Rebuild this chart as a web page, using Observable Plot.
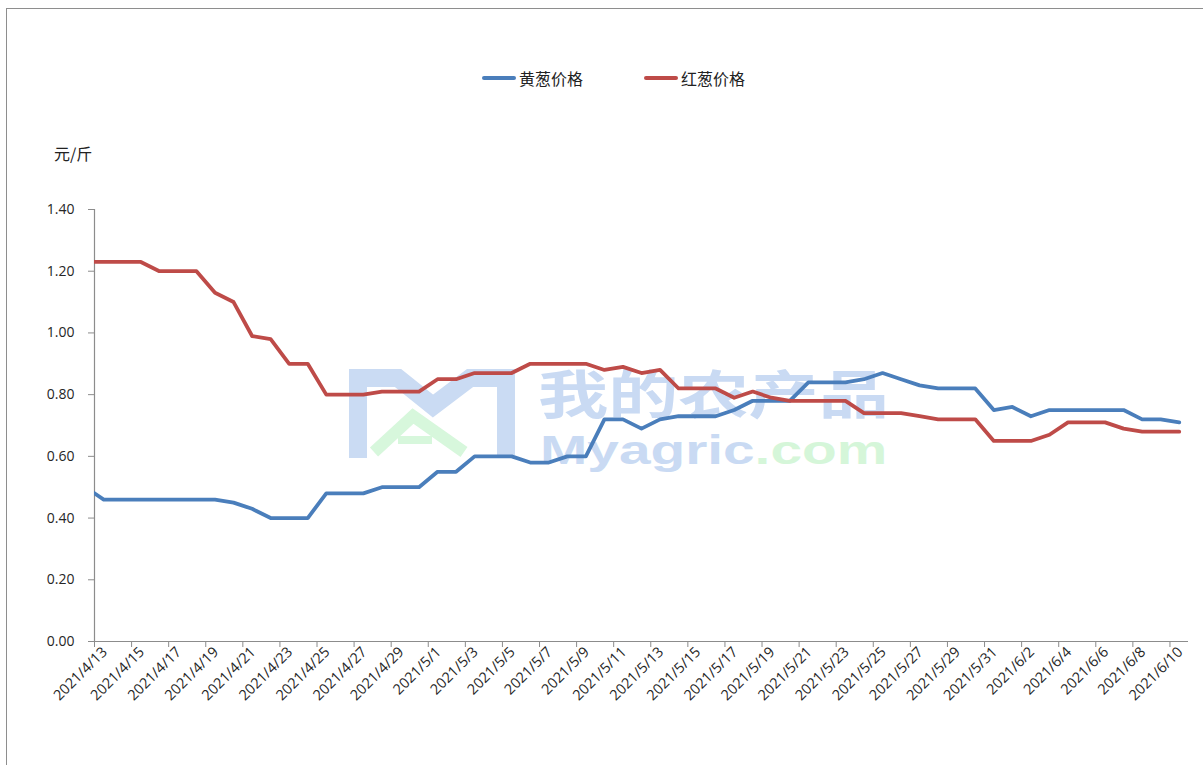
<!DOCTYPE html>
<html>
<head>
<meta charset="utf-8">
<script src="https://cdn.jsdelivr.net/npm/d3@7"></script>
<script src="https://cdn.jsdelivr.net/npm/@observablehq/plot@0.6"></script>
<style>
  body { margin: 0; background: #fff; }
  #wrap { position: relative; width: 1203px; height: 765px; overflow: hidden; background: #fff; }
  #border { position: absolute; left: 6px; top: 8px; width: 1300px; height: 900px; border: 1px solid #8e8e8e; }
  #wm { position: absolute; left: 0; top: 0; z-index: 0; }
  #chart { position: absolute; left: 0; top: 0; z-index: 1; }
  .unit { position: absolute; left: 54px; top: 141px; font: 16px "Noto Sans CJK SC", sans-serif; color: #222; z-index: 2; }
  .leg { position: absolute; top: 66px; height: 24px; display: flex; align-items: center; font: 16px "Noto Sans CJK SC", sans-serif; color: #222; z-index: 2; }
  .leg i { display: inline-block; width: 34px; height: 4px; border-radius: 2px; margin-right: 3px; }
</style>
</head>
<body>
<div id="wrap">
  <div id="border"></div>
  <svg id="wm" width="1203" height="765">
    <polyline points="358,458 358,378 398,378 433,406 470,378 506,378 506,455" fill="none" stroke="#cadbf3" stroke-width="18" stroke-linejoin="miter"/>
    <polyline points="374,452 413,416 464,452" fill="none" stroke="#d7f7dc" stroke-width="12"/>
    <line x1="398" y1="440" x2="432" y2="440" stroke="#d7f7dc" stroke-width="8"/>
    <text transform="translate(538,414) scale(1.35,1)" font-family="Noto Sans CJK SC" font-weight="bold" font-size="52" fill="#c9daf3">我的农产品</text>
    <text transform="translate(540,464) scale(1.42,1)" font-family="Liberation Sans" font-weight="bold" font-size="40" fill="#c9daf3">Myagric<tspan fill="#d5f6d9">.com</tspan></text>
  </svg>
  <div id="chart"></div>
  <div class="unit">元/斤</div>
  <div class="leg" style="left:482px"><i style="background:#4a7ebb"></i>黄葱价格</div>
  <div class="leg" style="left:644px"><i style="background:#be4b48"></i>红葱价格</div>
</div>
<script>
// ---- data ----
const dates = [
  "2021-04-12","2021-04-13","2021-04-14","2021-04-15","2021-04-16","2021-04-17","2021-04-18","2021-04-19","2021-04-20","2021-04-21",
  "2021-04-22","2021-04-23","2021-04-24","2021-04-25","2021-04-26","2021-04-27","2021-04-28","2021-04-29","2021-04-30",
  "2021-05-01","2021-05-02","2021-05-03","2021-05-04","2021-05-05","2021-05-06","2021-05-07","2021-05-08","2021-05-09","2021-05-10",
  "2021-05-11","2021-05-12","2021-05-13","2021-05-14","2021-05-15","2021-05-16","2021-05-17","2021-05-18","2021-05-19","2021-05-20",
  "2021-05-21","2021-05-22","2021-05-23","2021-05-24","2021-05-25","2021-05-26","2021-05-27","2021-05-28","2021-05-29","2021-05-30","2021-05-31",
  "2021-06-01","2021-06-02","2021-06-03","2021-06-04","2021-06-05","2021-06-06","2021-06-07","2021-06-08","2021-06-09","2021-06-10"
];
const yellowPrice = [
  0.50, 0.46,0.46,0.46,0.46,0.46,0.46,0.46, 0.45,0.43,0.40,0.40,0.40, 0.48,0.48,0.48,0.50,0.50,0.50,
  0.55,0.55,0.60,0.60,0.60,0.58,0.58,0.60,0.60,0.72,0.72,0.69,0.72,0.73,0.73,0.73,0.75,0.78,0.78,0.78,
  0.84,0.84,0.84,0.85,0.87,0.85,0.83,0.82,0.82,0.82,0.75,
  0.76,0.73,0.75,0.75,0.75,0.75,0.75,0.72,0.72,0.71
];
const redPrice = [
  1.23,1.23,1.23,1.23,1.20,1.20,1.20,1.13,1.10,0.99,0.98,0.90,0.90,0.80,0.80,0.80,0.81,0.81,0.81,
  0.85,0.85,0.87,0.87,0.87,0.90,0.90,0.90,0.90,0.88,0.89,0.87,0.88,0.82,0.82,0.82,0.79,0.81,0.79,0.78,
  0.78,0.78,0.78,0.74,0.74,0.74,0.73,0.72,0.72,0.72,0.65,
  0.65,0.65,0.67,0.71,0.71,0.71,0.69,0.68,0.68,0.68
];
const seriesNames = ["黄葱价格", "红葱价格"];
const seriesColors = ["#4a7ebb", "#be4b48"];
const tickLabels = [
  "2021/4/13","2021/4/15","2021/4/17","2021/4/19","2021/4/21","2021/4/23","2021/4/25","2021/4/27","2021/4/29",
  "2021/5/1","2021/5/3","2021/5/5","2021/5/7","2021/5/9","2021/5/11","2021/5/13","2021/5/15","2021/5/17",
  "2021/5/19","2021/5/21","2021/5/23","2021/5/25","2021/5/27","2021/5/29","2021/5/31",
  "2021/6/2","2021/6/4","2021/6/6","2021/6/8","2021/6/10"
];
const yTicks = [0, 0.2, 0.4, 0.6, 0.8, 1.0, 1.2, 1.4];

// ---- build ----
const parseISO = d3.utcParse("%Y-%m-%d");
const parseLabel = d3.utcParse("%Y/%m/%d");
const fmtLabel = d3.utcFormat("%Y/%-m/%-d");
const long = [];
dates.forEach((d, i) => {
  const date = parseISO(d);
  long.push({date, series: seriesNames[0], value: yellowPrice[i]});
  long.push({date, series: seriesNames[1], value: redPrice[i]});
});
const HALF = 12 * 3600 * 1000;
const labelDates = tickLabels.map(parseLabel);
const boundaries = labelDates.map(d => new Date(+d - HALF));
const x0 = new Date(+labelDates[0] - HALF);
const x1 = new Date(+labelDates[labelDates.length - 1] + HALF);
const axisColor = "#8c8c8c";

const chart = Plot.plot({
  width: 1203,
  height: 765,
  marginLeft: 94,
  marginRight: 15,
  marginTop: 209,
  marginBottom: 124,
  style: {background: "transparent", fontFamily: "'Open Sans', sans-serif", fontSize: "14px", color: "#262626", overflow: "visible"},
  x: {type: "utc", domain: [x0, x1]},
  y: {domain: [0, 1.4]},
  color: {domain: seriesNames, range: seriesColors},
  marks: [
    Plot.axisY({ticks: yTicks, tickFormat: d => d.toFixed(2), tickSize: 6, tickPadding: 14, fontSize: 14, stroke: axisColor, label: null}),
    Plot.axisX({ticks: boundaries, tickSize: 6, tickFormat: () => "", stroke: axisColor, label: null}),
    Plot.axisX({ticks: labelDates, tickSize: 0, tickPadding: 8, tickRotate: -45, fontSize: 14.5, dx: 1, tickFormat: fmtLabel, label: null}),
    Plot.ruleX([x0], {stroke: axisColor, strokeWidth: 1.2}),
    Plot.ruleY([0], {stroke: axisColor, strokeWidth: 1.2}),
    Plot.lineY(long, {x: "date", y: "value", z: "series", stroke: "series", strokeWidth: 3.8, clip: true})
  ]
});
document.getElementById("chart").appendChild(chart);
</script>
</body>
</html>
